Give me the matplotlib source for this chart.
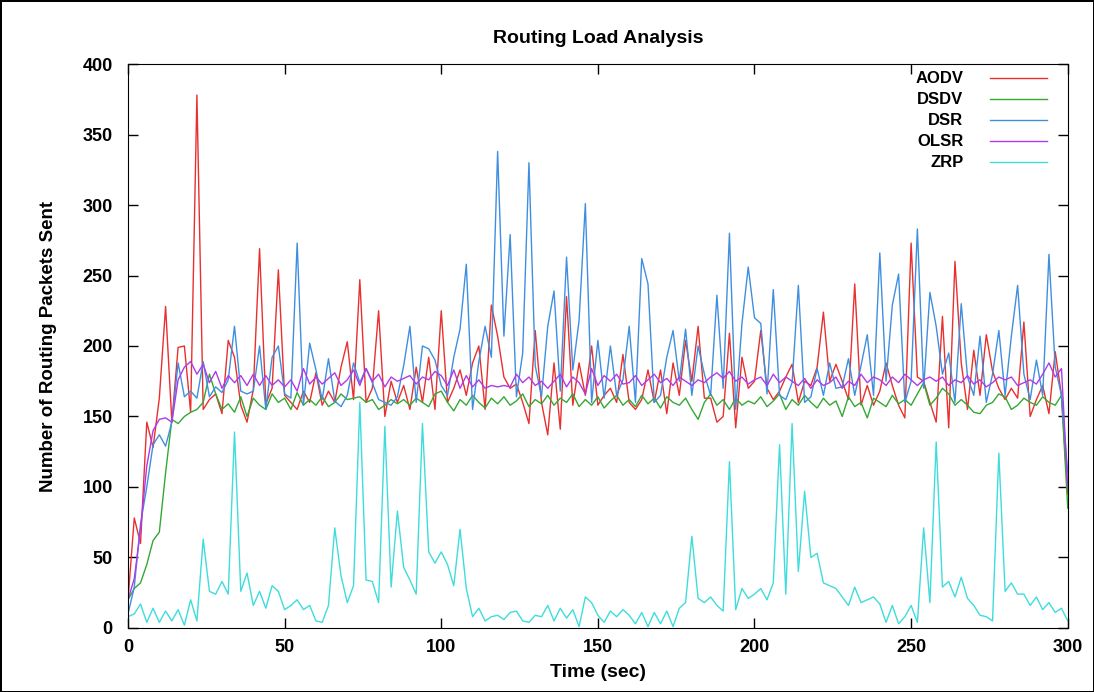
import numpy as np
import matplotlib.pyplot as plt

# time axis, one sample every 2 s
time_sec = np.arange(0, 301, 2)

aodv = [
    20, 78, 60, 146, 128, 163, 228, 146, 199, 200,
    153, 378, 155, 162, 166, 152, 204, 192, 158, 146,
    169, 269, 159, 170, 254, 165, 160, 155, 168, 160,
    181, 158, 168, 160, 185, 203, 162, 247, 160, 170,
    225, 150, 175, 160, 172, 155, 185, 160, 192, 155,
    225, 160, 170, 183, 165, 188, 200, 155, 229, 207,
    178, 170, 173, 160, 145, 211, 160, 137, 188, 141,
    235, 158, 188, 165, 200, 158, 165, 170, 160, 194,
    160, 155, 162, 183, 160, 183, 152, 188, 165, 204,
    175, 214, 163, 163, 146, 150, 209, 142, 192, 170,
    175, 211, 170, 162, 168, 178, 187, 160, 175, 172,
    185, 224, 175, 187, 175, 162, 244, 158, 172, 158,
    168, 188, 172, 158, 149, 273, 178, 175, 160, 146,
    221, 142, 260, 188, 155, 197, 165, 208, 182, 170,
    162, 170, 163, 217, 150, 162, 172, 152, 196, 165,
    95,
]

dsdv = [
    20, 28, 32, 45, 62, 68, 110, 148, 145, 150,
    153, 155, 160, 180, 166, 155, 159, 153, 164, 150,
    163, 158, 155, 166, 160, 163, 155, 167, 158, 162,
    158, 164, 157, 160, 166, 162, 163, 164, 160, 162,
    155, 158, 162, 159, 162, 158, 163, 160, 157, 166,
    168, 160, 154, 162, 158, 165, 160, 156, 163, 159,
    164, 158, 161, 166, 157, 162, 159, 165, 158, 163,
    160, 166, 157, 162, 158, 164, 156, 161, 165, 158,
    162, 157, 165, 159, 163, 156, 164, 160, 158, 163,
    155, 148, 160, 166, 158, 162, 155, 163, 158, 161,
    159, 164, 157, 161, 166, 155, 162, 158, 165, 160,
    156, 163, 158, 161, 150, 164, 157, 160, 149, 163,
    160, 157, 165, 159, 162, 158, 166, 174, 158, 163,
    170, 166, 158, 162, 158, 153, 152, 158, 160, 166,
    164, 155, 158, 163, 160, 158, 164, 160, 158, 165,
    85,
]

dsr = [
    10, 29, 74, 100, 130, 137, 129, 146, 188, 164,
    168, 163, 189, 164, 171, 167, 176, 214, 168, 166,
    168, 200, 155, 192, 200, 166, 163, 273, 158, 202,
    183, 162, 191, 161, 157, 165, 188, 174, 184, 174,
    162, 160, 158, 164, 186, 214, 160, 200, 198, 190,
    172, 165, 192, 212, 258, 155, 189, 214, 192, 338,
    207, 279, 164, 195, 330, 186, 164, 214, 239, 168,
    263, 183, 218, 301, 160, 204, 163, 200, 165, 176,
    214, 160, 262, 244, 160, 165, 192, 211, 175, 212,
    165, 200, 180, 165, 236, 170, 280, 155, 216, 256,
    220, 216, 166, 240, 165, 162, 174, 243, 160, 164,
    184, 165, 188, 170, 171, 191, 165, 186, 208, 165,
    266, 175, 229, 251, 160, 175, 283, 170, 238, 214,
    180, 195, 160, 230, 178, 165, 207, 160, 180, 211,
    165, 207, 243, 180, 162, 190, 165, 265, 185, 165,
    110,
]

olsr = [
    20, 35, 70, 115, 140, 148, 149, 146, 176, 185,
    189, 180, 187, 174, 182, 170, 179, 174, 179, 172,
    180, 172, 179, 172, 176, 171, 176, 168, 184, 173,
    178, 173, 177, 181, 172, 176, 183, 172, 184, 175,
    180, 171, 178, 175, 177, 179, 173, 178, 176, 182,
    179, 172, 183, 170, 179, 171, 176, 170, 172, 171,
    172, 171, 180, 174, 178, 172, 175, 170, 175, 180,
    171, 178, 174, 166, 184, 172, 179, 175, 180, 173,
    174, 179, 172, 176, 180, 174, 177, 172, 178, 175,
    172, 176, 174, 178, 181, 177, 182, 175, 178, 173,
    176, 178, 172, 180, 174, 178, 175, 172, 177, 170,
    176, 172, 174, 178, 170, 175, 172, 180, 174, 178,
    176, 172, 178, 174, 180, 176, 172, 176, 178, 175,
    178, 172, 176, 174, 179, 173, 176, 171, 174, 178,
    176, 178, 172, 174, 176, 173, 180, 188, 178, 184,
    100,
]

zrp = [
    8, 10, 17, 4, 14, 4, 12, 5, 13, 2,
    20, 5, 63, 26, 24, 33, 24, 139, 26, 39,
    16, 26, 14, 30, 26, 13, 16, 20, 13, 16,
    5, 4, 16, 71, 37, 18, 30, 160, 34, 33,
    18, 143, 29, 83, 43, 34, 24, 145, 54, 46,
    54, 45, 30, 70, 28, 8, 14, 5, 8, 9,
    6, 11, 12, 5, 4, 9, 8, 16, 5, 14,
    7, 13, 1, 22, 18, 9, 4, 12, 8, 13,
    9, 3, 11, 1, 11, 3, 12, 1, 14, 18,
    65, 21, 18, 22, 16, 12, 118, 13, 28, 21,
    24, 28, 20, 32, 130, 24, 145, 40, 97, 50,
    53, 32, 30, 28, 22, 16, 29, 18, 20, 22,
    17, 4, 16, 3, 8, 16, 4, 71, 18, 132,
    29, 33, 22, 36, 21, 16, 9, 8, 5, 124,
    26, 32, 24, 24, 16, 22, 13, 18, 11, 14,
    5,
]

protocols = ['AODV', 'DSDV', 'DSR', 'OLSR', 'ZRP']
series = [aodv, dsdv, dsr, olsr, zrp]
colors = ['#e8302e', '#33a833', '#3f8fe0', '#b03ae8', '#3fdcdc']

plt.rcParams['font.family'] = ['Liberation Sans', 'DejaVu Sans']
plt.rcParams['font.weight'] = 'bold'

fig = plt.figure(figsize=(10.94, 6.92), dpi=100, edgecolor='black', linewidth=2)
ax = fig.add_axes([0.117, 0.0925, 0.859, 0.815])

for name, vals, c in zip(protocols, series, colors):
    ax.plot(time_sec, vals, color=c, lw=1.0)

ax.set_xlim(0, 300)
ax.set_ylim(0, 400)
ax.set_xticks(range(0, 301, 50))
ax.set_yticks(range(0, 401, 50))
ax.tick_params(direction='in', length=7, width=1, top=True, right=True, labelsize=13)
ax.tick_params(axis='x', pad=8)
ax.tick_params(axis='y', pad=11)
for lab in ax.get_xticklabels() + ax.get_yticklabels():
    lab.set_fontweight('bold')

ax.set_title('Routing Load Analysis', fontsize=14, fontweight='bold', pad=15)
ax.set_xlabel('Time (sec)', fontsize=14, fontweight='bold', labelpad=6)
ax.set_ylabel('Number of Routing Packets Sent', fontsize=13.5, fontweight='bold', labelpad=18)

# gnuplot-style key: right-aligned names, sample line to the right
for i, (name, c) in enumerate(zip(protocols, colors)):
    y = 0.975 - 0.0372 * i
    ax.text(0.889, y, name, transform=ax.transAxes, ha='right', va='center',
            fontsize=12, fontweight='bold')
    ax.plot([0.917, 0.978], [y, y], transform=ax.transAxes, color=c, lw=1.0)

fig.savefig('out.png', dpi=100)
